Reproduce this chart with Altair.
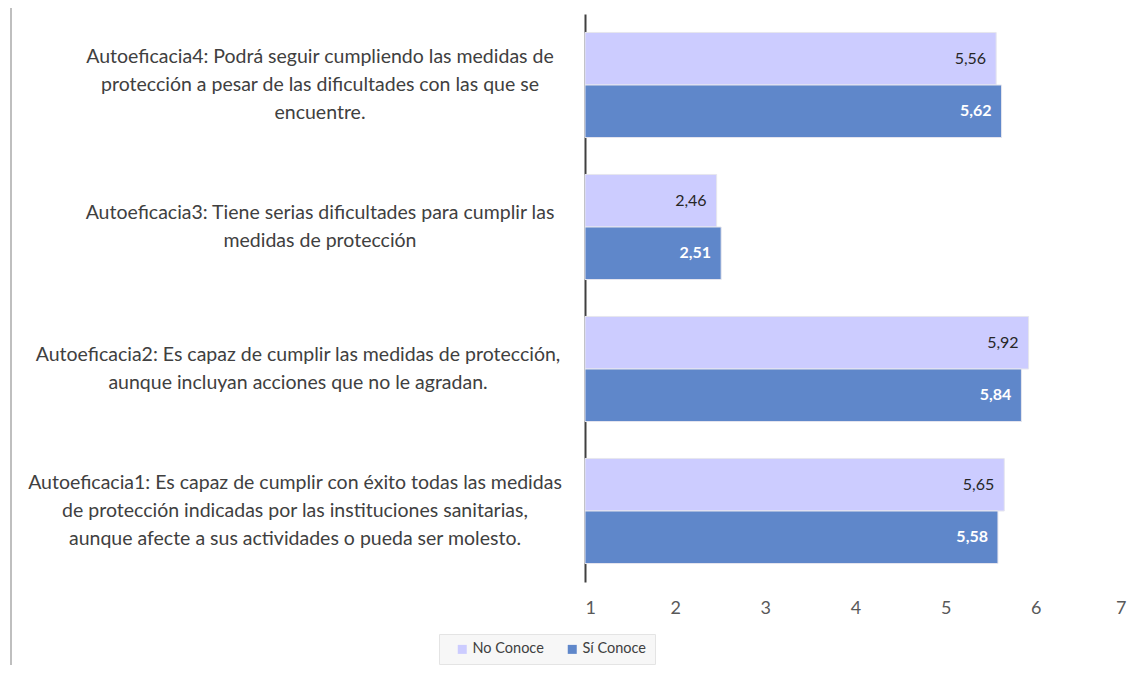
import altair as alt
import pandas as pd

categories = [
    "Autoeficacia4: Podrá seguir cumpliendo las medidas de|protección a pesar de las dificultades con las que se|encuentre.",
    "Autoeficacia3: Tiene serias dificultades para cumplir las|medidas de protección",
    "Autoeficacia2: Es capaz de cumplir las medidas de protección,|aunque incluyan acciones que no le agradan.",
    "Autoeficacia1: Es capaz de cumplir con éxito todas las medidas|de protección indicadas por las instituciones sanitarias,|aunque afecte a sus actividades o pueda ser molesto.",
]
series = ["No Conoce", "Sí Conoce"]
no_conoce = [5.56, 2.46, 5.92, 5.65]
si_conoce = [5.62, 2.51, 5.84, 5.58]
x_ticks = [1, 2, 3, 4, 5, 6, 7]

rows = []
for c, a, b in zip(categories, no_conoce, si_conoce):
    rows.append({"cat": c, "serie": series[0], "valor": a})
    rows.append({"cat": c, "serie": series[1], "valor": b})
df = pd.DataFrame(rows)
cat_df = pd.DataFrame({"cat": categories})

FONT = "Lato"
colors = ["#CCCCFF", "#5F87CA"]

y_scale = alt.Scale(domain=categories, paddingInner=0.26, paddingOuter=0.13)
y_enc = alt.Y(
    "cat:N",
    sort=categories,
    scale=y_scale,
    axis=alt.Axis(
        title=None,
        ticks=False,
        labels=False,
        domainColor="#404040",
        domainWidth=2,
    ),
)
x_scale = alt.Scale(domain=[1, 7], nice=False, zero=False)
x_enc = alt.X(
    "valor:Q",
    scale=x_scale,
    axis=alt.Axis(
        title=None,
        values=x_ticks,
        format="d",
        grid=False,
        domain=False,
        ticks=False,
        labelFontSize=18,
        labelColor="#595959",
        labelFont=FONT,
        labelPadding=17,
    ),
)
yoff = alt.YOffset("serie:N", sort=series)

base = alt.Chart(df).encode(y=y_enc, yOffset=yoff)

bars = base.mark_bar(stroke="#E6E6EE", strokeWidth=1).encode(
    x=x_enc,
    x2=alt.datum(1),
    color=alt.Color(
        "serie:N",
        sort=series,
        scale=alt.Scale(domain=series, range=colors),
        legend=alt.Legend(
            title=None,
            orient="none",
            direction="horizontal",
            legendX=-146,
            legendY=620,
            symbolType="square",
            symbolSize=81,
            symbolStrokeWidth=0,
            labelFontSize=14.5,
            labelFont=FONT,
            labelColor="#404040",
            fillColor="#F7F7F7",
            strokeColor="#E4E4E4",
            padding=8,
            columnPadding=13,
            symbolOffset=8,
            labelOffset=3,
        ),
    ),
)

fmt = "replace(format(datum.valor, '.2f'), '.', ',')"
txt_no = base.transform_filter(alt.datum.serie == series[0]).transform_calculate(
    lab=fmt
).mark_text(align="right", dx=-10, fontSize=16, font=FONT, color="#262626").encode(
    x=alt.X("valor:Q", scale=x_scale), text="lab:N"
)
txt_si = base.transform_filter(alt.datum.serie == series[1]).transform_calculate(
    lab=fmt
).mark_text(align="right", dx=-10, fontSize=16, font=FONT, color="white", fontWeight="bold").encode(
    x=alt.X("valor:Q", scale=x_scale), text="lab:N"
)

# category label blocks (centred, wrapped), one layer per block
label_centres = [-265, -265, -287, -290]
label_layers = []
for cat, xc in zip(categories, label_centres):
    n_lines = len(cat.split("|"))
    label_layers.append(
        alt.Chart(cat_df)
        .transform_filter(alt.datum.cat == cat)
        .mark_text(
            align="center",
            baseline="middle",
            lineBreak="|",
            lineHeight=28,
            fontSize=19.5,
            font=FONT,
            color="#404040",
            dy=-(n_lines - 1) * 14,
        )
        .encode(
            y=alt.Y("cat:N", sort=categories, scale=y_scale),
            x=alt.value(xc),
            text="cat:N",
        )
    )

# light grey frame line on the far left of the original figure
frame = alt.Chart(cat_df.head(1)).mark_rule(color="#BFBFBF", strokeWidth=2).encode(
    x=alt.value(-574), y=alt.value(-14), y2=alt.value(660)
)

chart = (
    alt.layer(bars, txt_no, txt_si, *label_layers, frame)
    .properties(
        width=541,
        height=568,
        autosize=alt.AutoSizeParams(type="none"),
        padding={"left": 577, "top": 6, "right": 5, "bottom": 83},
        background="white",
    )
    .configure_view(strokeWidth=0, stroke=None)
)

chart.save("out.html", embed_options={"renderer": "svg", "actions": False})
